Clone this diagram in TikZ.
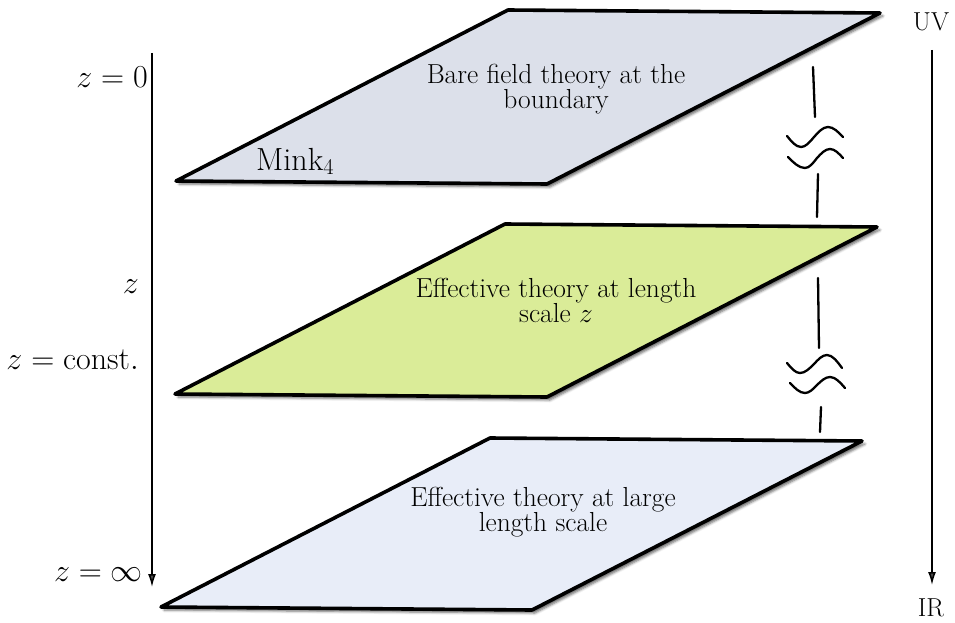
\RequirePackage{fix-cm}
\documentclass[tikz,border=0pt]{standalone}
\usetikzlibrary{arrows.meta,shadows.blur}
\definecolor{planeA}{HTML}{DCE0EA}
\definecolor{planeB}{HTML}{DAEC98}
\definecolor{planeC}{HTML}{E8EDF8}
\tikzset{
  plane/.style={draw=black, line width=3.6pt, line join=round,
    blur shadow={shadow xshift=3pt, shadow yshift=-3pt, shadow blur radius=2.5pt, shadow opacity=60}},
  planetext/.style={align=center, font=\fontsize{27.5}{25}\selectfont, inner sep=0pt},
  biglabel/.style={font=\fontsize{32}{36}\selectfont, inner sep=0pt},
  endlabel/.style={font=\fontsize{26}{28}\selectfont, inner sep=0pt},
  axis/.style={line width=1.5pt, -{Latex[length=13pt,width=8pt]}},
  wavy/.style={line width=2.3pt, line cap=round},
}
\begin{document}
\begin{tikzpicture}[x=1pt,y=-1pt]
\useasboundingbox (0,0) rectangle (955,623);

% planes
\draw[plane, fill=planeA] (176,181) -- (547,184) -- (880,13) -- (508,10) -- cycle;
\draw[plane, fill=planeB] (175,394) -- (547,397) -- (877,227) -- (505,224) -- cycle;
\draw[plane, fill=planeC] (161,607) -- (532,610) -- (862,441) -- (490,438) -- cycle;

% plane texts
\node[planetext] (t1) at (556,89) {Bare field theory at the\\boundary};
\node[planetext] (t2) at (556,300) {Effective theory at length\\scale $z$};
\node[planetext] (t3) at (543,512) {Effective theory at large\\length scale};
\node[biglabel, anchor=base west] (mink) at (256,170) {Mink$_4$};

% left axis
\coordinate (ztop) at (152,53);
\coordinate (zbot) at (152,587);
\draw[axis] (ztop) -- (zbot);
\node[biglabel, anchor=base east] (z0) at (148,88) {$z=0$};
\node[biglabel, anchor=base east] (zz) at (139,293) {$z$};
\node[biglabel, anchor=base east] (zc) at (139,369) {$z=\mathrm{const.}$};
\node[biglabel, anchor=base east] (zi) at (143,581) {$z=\infty$};

% right axis
\node[endlabel] (uv) at (931,22) {UV};
\node[endlabel] (ir) at (931,608) {IR};
\coordinate (rtop) at (932,50);
\coordinate (rbot) at (932,585);
\draw[axis] (rtop) -- (rbot);

% wavy breaks between planes
\coordinate (a1) at (813,67);  \coordinate (a2) at (815,117);
\coordinate (a3) at (818,174); \coordinate (a4) at (817,217);
\draw[wavy] (a1) -- (a2);
\draw[wavy] (a3) -- (a4);
\begin{scope}[shift={(814,137)}]
  \draw[wavy] (-27,-1) sin (-13,10) cos (0,0) sin (14,-10) cos (29,0);
\end{scope}
\begin{scope}[shift={(817,158)}]
  \draw[wavy] (-29,-1) sin (-12,10) cos (0,0) sin (13,-9) cos (26,0);
\end{scope}

\coordinate (b1) at (818,278); \coordinate (b2) at (819,348);
\coordinate (b3) at (821,407); \coordinate (b4) at (820,432);
\draw[wavy] (b1) -- (b2);
\draw[wavy] (b3) -- (b4);
\begin{scope}[shift={(814,364)}]
  \draw[wavy] (-27,-1) sin (-14,9) cos (0,0) sin (13,-9) cos (28,4);
\end{scope}
\begin{scope}[shift={(817,385)}]
  \draw[wavy] (-27,-2) sin (-12,8) cos (0,0) sin (13,-8) cos (28,3);
\end{scope}
\end{tikzpicture}
\end{document}
